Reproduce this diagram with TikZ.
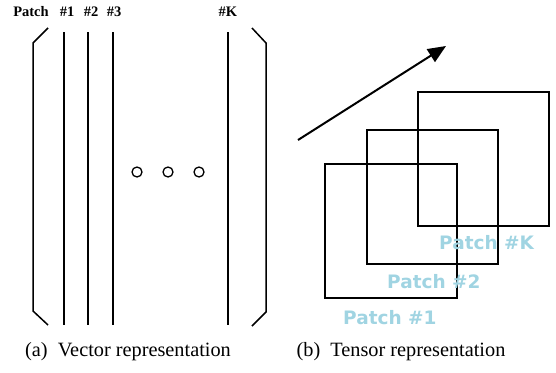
\documentclass[tikz,border=0pt]{standalone}
\usepackage{fontspec}
\setmainfont{Liberation Serif}
\newfontfamily\labelsans{DejaVu Sans}
\usetikzlibrary{arrows.meta}
\definecolor{patchblue}{RGB}{160,212,226}
\tikzset{
  bar/.style={line width=1.5pt, black},
  bracket/.style={line width=1.5pt, black, line join=miter},
  patchbox/.style={draw, line width=2.2pt, inner sep=0pt, anchor=north west},
  toplabel/.style={font=\fontsize{14.5}{16}\selectfont\bfseries, inner sep=0pt},
  patchlabel/.style={font=\labelsans\fontsize{18.5}{20}\selectfont\bfseries, text=patchblue, inner sep=0pt, anchor=west},
  caption/.style={font=\fontsize{20.3}{24}\selectfont, inner sep=0pt},
  dot/.style={circle, draw, line width=1.3pt, minimum size=10pt, inner sep=0pt}
}
\begin{document}
\begin{tikzpicture}[x=1pt, y=-1pt]
\useasboundingbox (0,0) rectangle (556,372);

% ---- (a) vector representation ----
\node[toplabel] (lpatch) at (31,12) {Patch};
\node[toplabel] (l1) at (67,12) {\#1};
\node[toplabel] (l2) at (91,12) {\#2};
\node[toplabel] (l3) at (114,12) {\#3};
\node[toplabel] (lk) at (228,12) {\#K};

% column bars
\draw[bar] (64,32) -- (64,325);
\draw[bar] (88,32) -- (88,325);
\draw[bar] (113,32) -- (113,325);
\draw[bar] (228,32) -- (228,325);

% brackets
\draw[bracket] (48,28) -- (33,43) -- (33,311) -- (48,325);
\draw[bracket] (252,28) -- (266,43) -- (266,312) -- (252,326);

% ellipsis dots
\node[dot] (d1) at (137,172) {};
\node[dot] (d2) at (168,172) {};
\node[dot] (d3) at (199,172) {};

\node[caption] (capa) at (128,352) {(a)\ \ Vector representation};

% ---- (b) tensor representation ----
\coordinate (astart) at (298,140);
\coordinate (aend) at (446,46);
\draw[line width=2pt, -{Triangle[length=18pt, width=15pt]}] (astart) -- (aend);

\node[patchbox, minimum width=131pt, minimum height=134pt] (pk) at (417,91) {};
\node[patchbox, minimum width=131pt, minimum height=134pt] (p2) at (366,129) {};
\node[patchbox, minimum width=132pt, minimum height=134pt] (p1) at (324,163) {};

\node[patchlabel] (tk) at (439,243) {Patch \#K};
\node[patchlabel] (t2) at (387,282) {Patch \#2};
\node[patchlabel] (t1) at (343,318) {Patch \#1};

\node[caption] (capb) at (401,352) {(b)\ \ Tensor representation};
\end{tikzpicture}
\end{document}
